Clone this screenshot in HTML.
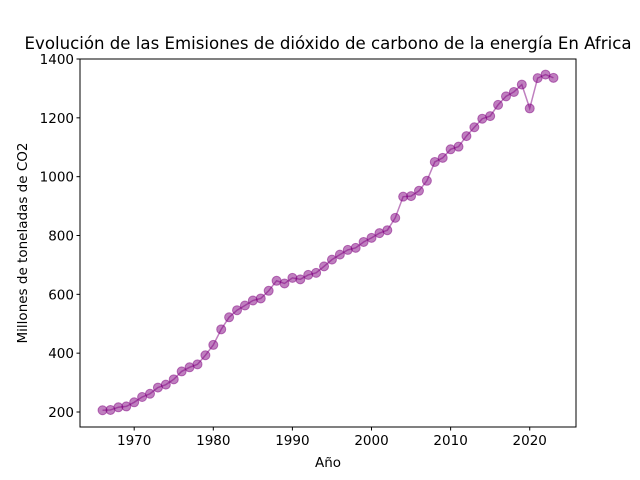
<!DOCTYPE html>
<html><head><meta charset="utf-8"><style>
body{margin:0;background:#fff}
svg{display:block;font-family:"DejaVu Sans","Liberation Sans",sans-serif}
</style></head><body>
<svg id="c" width="640" height="480"></svg>
<script>
const years=[1966,1967,1968,1969,1970,1971,1972,1973,1974,1975,1976,1977,1978,1979,1980,1981,1982,1983,1984,1985,1986,1987,1988,1989,1990,1991,1992,1993,1994,1995,1996,1997,1998,1999,2000,2001,2002,2003,2004,2005,2006,2007,2008,2009,2010,2011,2012,2013,2014,2015,2016,2017,2018,2019,2020,2021,2022,2023];
const emissions=[206,207,216,219,233,251,262,283,293,311,338,352,362,393,428,481,522,546,562,579,586,612,646,637,656,651,666,673,695,718,735,751,758,778,792,808,818,860,932,934,952,986,1050,1064,1093,1102,1138,1168,1197,1206,1244,1273,1288,1313,1232,1335,1347,1336];
const xTicks=[1970,1980,1990,2000,2010,2020];
const yTicks=[200,400,600,800,1000,1200,1400];
const NS="http://www.w3.org/2000/svg";
const svg=document.getElementById('c');
const L=80,R=576,T=59,B=427;
const xmin=Math.min(...years),xmax=Math.max(...years),xm=(xmax-xmin)*0.05;
const X0=xmin-xm,X1=xmax+xm;
const x=v=>L+(v-X0)/(X1-X0)*(R-L);
const y=v=>412-(v-200)/1200*353;
function el(t,a,txt){const e=document.createElementNS(NS,t);for(const k in a)e.setAttribute(k,a[k]);if(txt!=null)e.textContent=txt;svg.appendChild(e);return e;}
let e=el('text',{x:328,y:49,'text-anchor':'middle','font-size':16.6,fill:'#000'},'Evolución de las Emisiones de dióxido de carbono de la energía En Africa');


let d='';years.forEach((yr,i)=>{d+=(i?'L':'M')+x(yr)+','+y(emissions[i]);});
e=el('path',{d:d,fill:'none',stroke:'purple','stroke-opacity':0.5,'stroke-width':1.5});


years.forEach((yr,i)=>{
 const c=el('circle',{cx:x(yr),cy:y(emissions[i]),r:4.5,fill:'purple','fill-opacity':0.5,stroke:'purple','stroke-opacity':0.5,'stroke-width':1});
 
 
});
e=el('rect',{x:L,y:T,width:R-L,height:B-T,fill:'none',stroke:'#000','stroke-width':1});


xTicks.forEach(t=>{
 const l=el('line',{x1:x(t),x2:x(t),y1:B,y2:B+3.5,stroke:'#000'});
 
 
 const tx=el('text',{x:x(t),y:B+18,'text-anchor':'middle','font-size':13.5},String(t));
 
 
});
yTicks.forEach(t=>{
 const l=el('line',{x1:L-3.5,x2:L,y1:y(t),y2:y(t),stroke:'#000'});
 
 
 const tx=el('text',{x:L-6,y:y(t)+5,'text-anchor':'end','font-size':13.5},String(t));
 
 
});
e=el('text',{x:328,y:467,'text-anchor':'middle','font-size':13.5},'Año');


e=el('text',{x:0,y:0,'text-anchor':'middle','font-size':13.5,transform:'translate(27,243) rotate(-90)'},'Millones de toneladas de CO2');


</script>
</body></html>
